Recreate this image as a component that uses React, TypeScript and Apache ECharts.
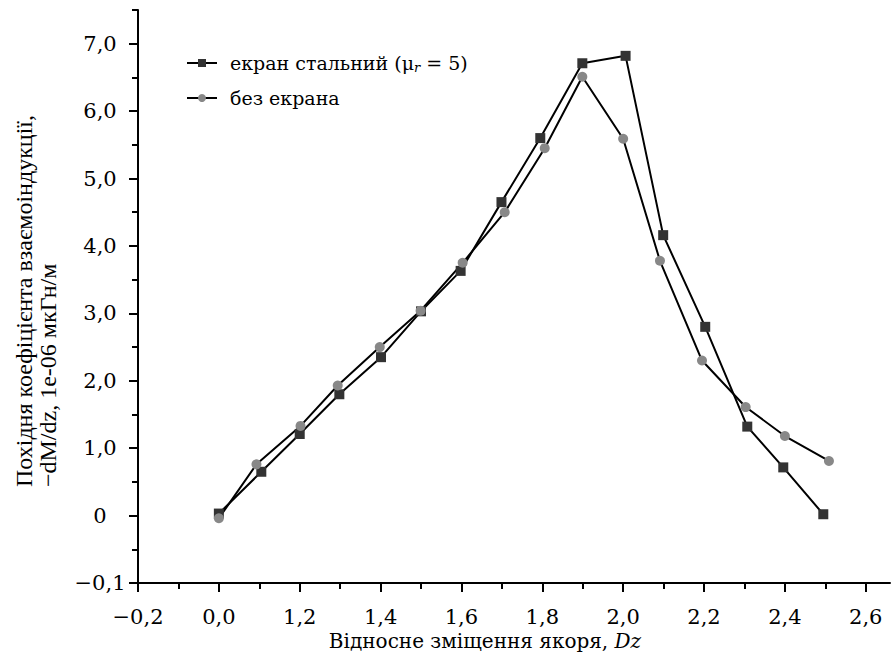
import React, { useEffect, useRef } from 'react';
import * as echarts from 'echarts';

// Series: steel screen (mu_r = 5)
const steelX = [0.0, 0.105, 0.2, 0.298, 0.401, 0.5, 0.598, 0.699, 0.795, 0.899, 1.006, 1.099, 1.203, 1.307, 1.396, 1.495];
const steelY = [0.03, 0.65, 1.21, 1.8, 2.35, 3.03, 3.63, 4.65, 5.6, 6.71, 6.82, 4.16, 2.8, 1.32, 0.715, 0.02];
// Series: without screen
const noScreenX = [0.0, 0.093, 0.202, 0.294, 0.398, 0.499, 0.603, 0.707, 0.806, 0.899, 1.0, 1.091, 1.195, 1.303, 1.4, 1.509];
const noScreenY = [-0.04, 0.76, 1.33, 1.93, 2.5, 3.04, 3.75, 4.5, 5.45, 6.51, 5.59, 3.78, 2.3, 1.61, 1.18, 0.81];

// Ticks and their labels (as printed in the reference)
const xMajorTicks = [-0.2, 0, 0.2, 0.4, 0.6, 0.8, 1.0, 1.2, 1.4, 1.6];
const xTickLabels = ['−0,2', '0,0', '1,2', '1,4', '1,6', '1,8', '2,0', '2,2', '2,4', '2,6'];
const xMinorTicks = [-0.1, 0.1, 0.3, 0.5, 0.7, 0.9, 1.1, 1.3, 1.5];
const yMajorTicks = [-1, 0, 1, 2, 3, 4, 5, 6, 7];
const yTickLabels = ['−0,1', '0', '1,0', '2,0', '3,0', '4,0', '5,0', '6,0', '7,0'];
const yMinorTicks = [-0.5, 0.5, 1.5, 2.5, 3.5, 4.5, 5.5, 6.5, 7.5];

const seriesNames = ['steel', 'none'];
const legendLabels = ['екран стальний (μ{sub|r} = 5)', 'без екрана'];
const xTitle = 'Відносне зміщення якоря, ';
const xTitleItalic = 'Dz';
const yTitle1 = 'Похідня коефіцієнта взаємоіндукції,';
const yTitle2 = '−dM/dz, 1e-06 мкГн/м';

const FONT = 'Liberation Serif';
const ALT_FONT = 'DejaVu Serif';
const TICK_FS = 21;
const alt = { fontFamily: ALT_FONT, fontStyle: 'normal', fontWeight: 'normal' };
const base = { fontFamily: FONT, fontStyle: 'normal', fontWeight: 'normal' };

function lookup(ticks: number[], labels: string[], v: number) {
  const i = ticks.findIndex((t) => Math.abs(t - v) < 1e-6);
  return i >= 0 ? labels[i] : '';
}

export default function App() {
  const ref = useRef<HTMLDivElement>(null);
  useEffect(() => {
    if (!ref.current) return;
    const chart = echarts.init(ref.current, undefined, { renderer: 'svg' });
    const X_MIN = -0.2;
    const X_MAX = 1.66;
    const Y_MIN = -1;
    const Y_MAX = 7.5;
    const axisColor = '#000';
    const option: any = {
      animation: false,
      backgroundColor: '#fff',
      grid: { left: 138, right: 2, top: 10, bottom: 74, containLabel: false },
      legend: {
        orient: 'vertical',
        left: 186,
        top: 51,
        padding: 0,
        itemWidth: 30,
        itemHeight: 10,
        itemGap: 11,
        data: seriesNames,
        formatter: (name: string) => legendLabels[seriesNames.indexOf(name)],
        textStyle: {
          ...alt,
          fontSize: 19,
          color: '#000',
          lineHeight: 24,
          padding: [0, 0, 0, 8],
          rich: {
            sub: { fontFamily: ALT_FONT, fontWeight: 'normal', fontSize: 13, fontStyle: 'italic', color: '#000', padding: [9, 0, 0, 0], lineHeight: 24 },
          },
        },
      },
      xAxis: [
        {
          type: 'value', min: X_MIN, max: X_MAX, position: 'bottom',
          axisLine: { show: true, onZero: false, lineStyle: { color: axisColor, width: 2 } },
          axisTick: { show: true, customValues: xMinorTicks, length: 6, lineStyle: { color: axisColor, width: 2 } },
          axisLabel: { show: false },
          splitLine: { show: false },
        },
        {
          type: 'value', min: X_MIN, max: X_MAX, position: 'bottom',
          axisLine: { show: false, onZero: false },
          axisTick: { show: true, customValues: xMajorTicks, length: 9, lineStyle: { color: axisColor, width: 2 } },
          axisLabel: {
            show: true, customValues: xMajorTicks, margin: 24, lineHeight: 20,
            ...alt, fontSize: TICK_FS, color: '#000',
            formatter: (v: number) => lookup(xMajorTicks, xTickLabels, v),
          },
          splitLine: { show: false },
        },
      ],
      yAxis: [
        {
          type: 'value', min: Y_MIN, max: Y_MAX, position: 'left',
          axisLine: { show: true, onZero: false, lineStyle: { color: axisColor, width: 2 } },
          axisTick: { show: true, customValues: yMinorTicks, length: 6, lineStyle: { color: axisColor, width: 2 } },
          axisLabel: { show: false },
          splitLine: { show: false },
        },
        {
          type: 'value', min: Y_MIN, max: Y_MAX, position: 'left',
          axisLine: { show: false, onZero: false },
          axisTick: { show: true, customValues: yMajorTicks, length: 9, lineStyle: { color: axisColor, width: 2 } },
          axisLabel: {
            show: true, customValues: yMajorTicks, margin: 38, align: 'center',
            ...alt, fontSize: TICK_FS, color: '#000',
            formatter: (v: number) => lookup(yMajorTicks, yTickLabels, v),
          },
          splitLine: { show: false },
        },
      ],
      series: [
        {
          name: seriesNames[0],
          type: 'line',
          xAxisIndex: 0,
          yAxisIndex: 0,
          data: steelX.map((x, i) => [x, steelY[i]]),
          symbol: 'rect',
          symbolSize: 10,
          showAllSymbol: true,
          lineStyle: { color: '#000', width: 2 },
          itemStyle: { color: '#333333', borderWidth: 0 },
          emphasis: { disabled: true },
        },
        {
          name: seriesNames[1],
          type: 'line',
          xAxisIndex: 0,
          yAxisIndex: 0,
          data: noScreenX.map((x, i) => [x, noScreenY[i]]),
          symbol: 'circle',
          symbolSize: 10,
          showAllSymbol: true,
          lineStyle: { color: '#000', width: 2 },
          itemStyle: { color: '#888888', borderWidth: 0 },
          emphasis: { disabled: true },
        },
      ],
      graphic: [
        {
          type: 'text',
          x: 485,
          y: 641,
          style: {
            text: xTitle + '{i|' + xTitleItalic + '}',
            ...alt,
            fontSize: 20,
            lineHeight: 22,
            fill: '#000',
            align: 'center',
            verticalAlign: 'middle',
            rich: { i: { fontFamily: ALT_FONT, fontWeight: 'normal', fontSize: 20, lineHeight: 22, fontStyle: 'italic', fill: '#000' } },
          },
        },
        {
          type: 'text',
          x: 24,
          y: 487,
          rotation: Math.PI / 2,
          style: {
            text: yTitle1,
            ...base,
            fontSize: 24,
            fill: '#000',
            align: 'left',
            verticalAlign: 'middle',
          },
        },
        {
          type: 'text',
          x: 48,
          y: 487,
          rotation: Math.PI / 2,
          style: {
            text: yTitle2,
            ...base,
            fontSize: 24,
            fill: '#000',
            align: 'left',
            verticalAlign: 'middle',
          },
        },
      ],
    };
    chart.setOption(option);
    return () => chart.dispose();
  }, []);
  return (
    <div
      ref={ref}
      style={{ position: 'fixed', left: 0, top: 0, width: 892, height: 657, background: '#fff' }}
    />
  );
}
